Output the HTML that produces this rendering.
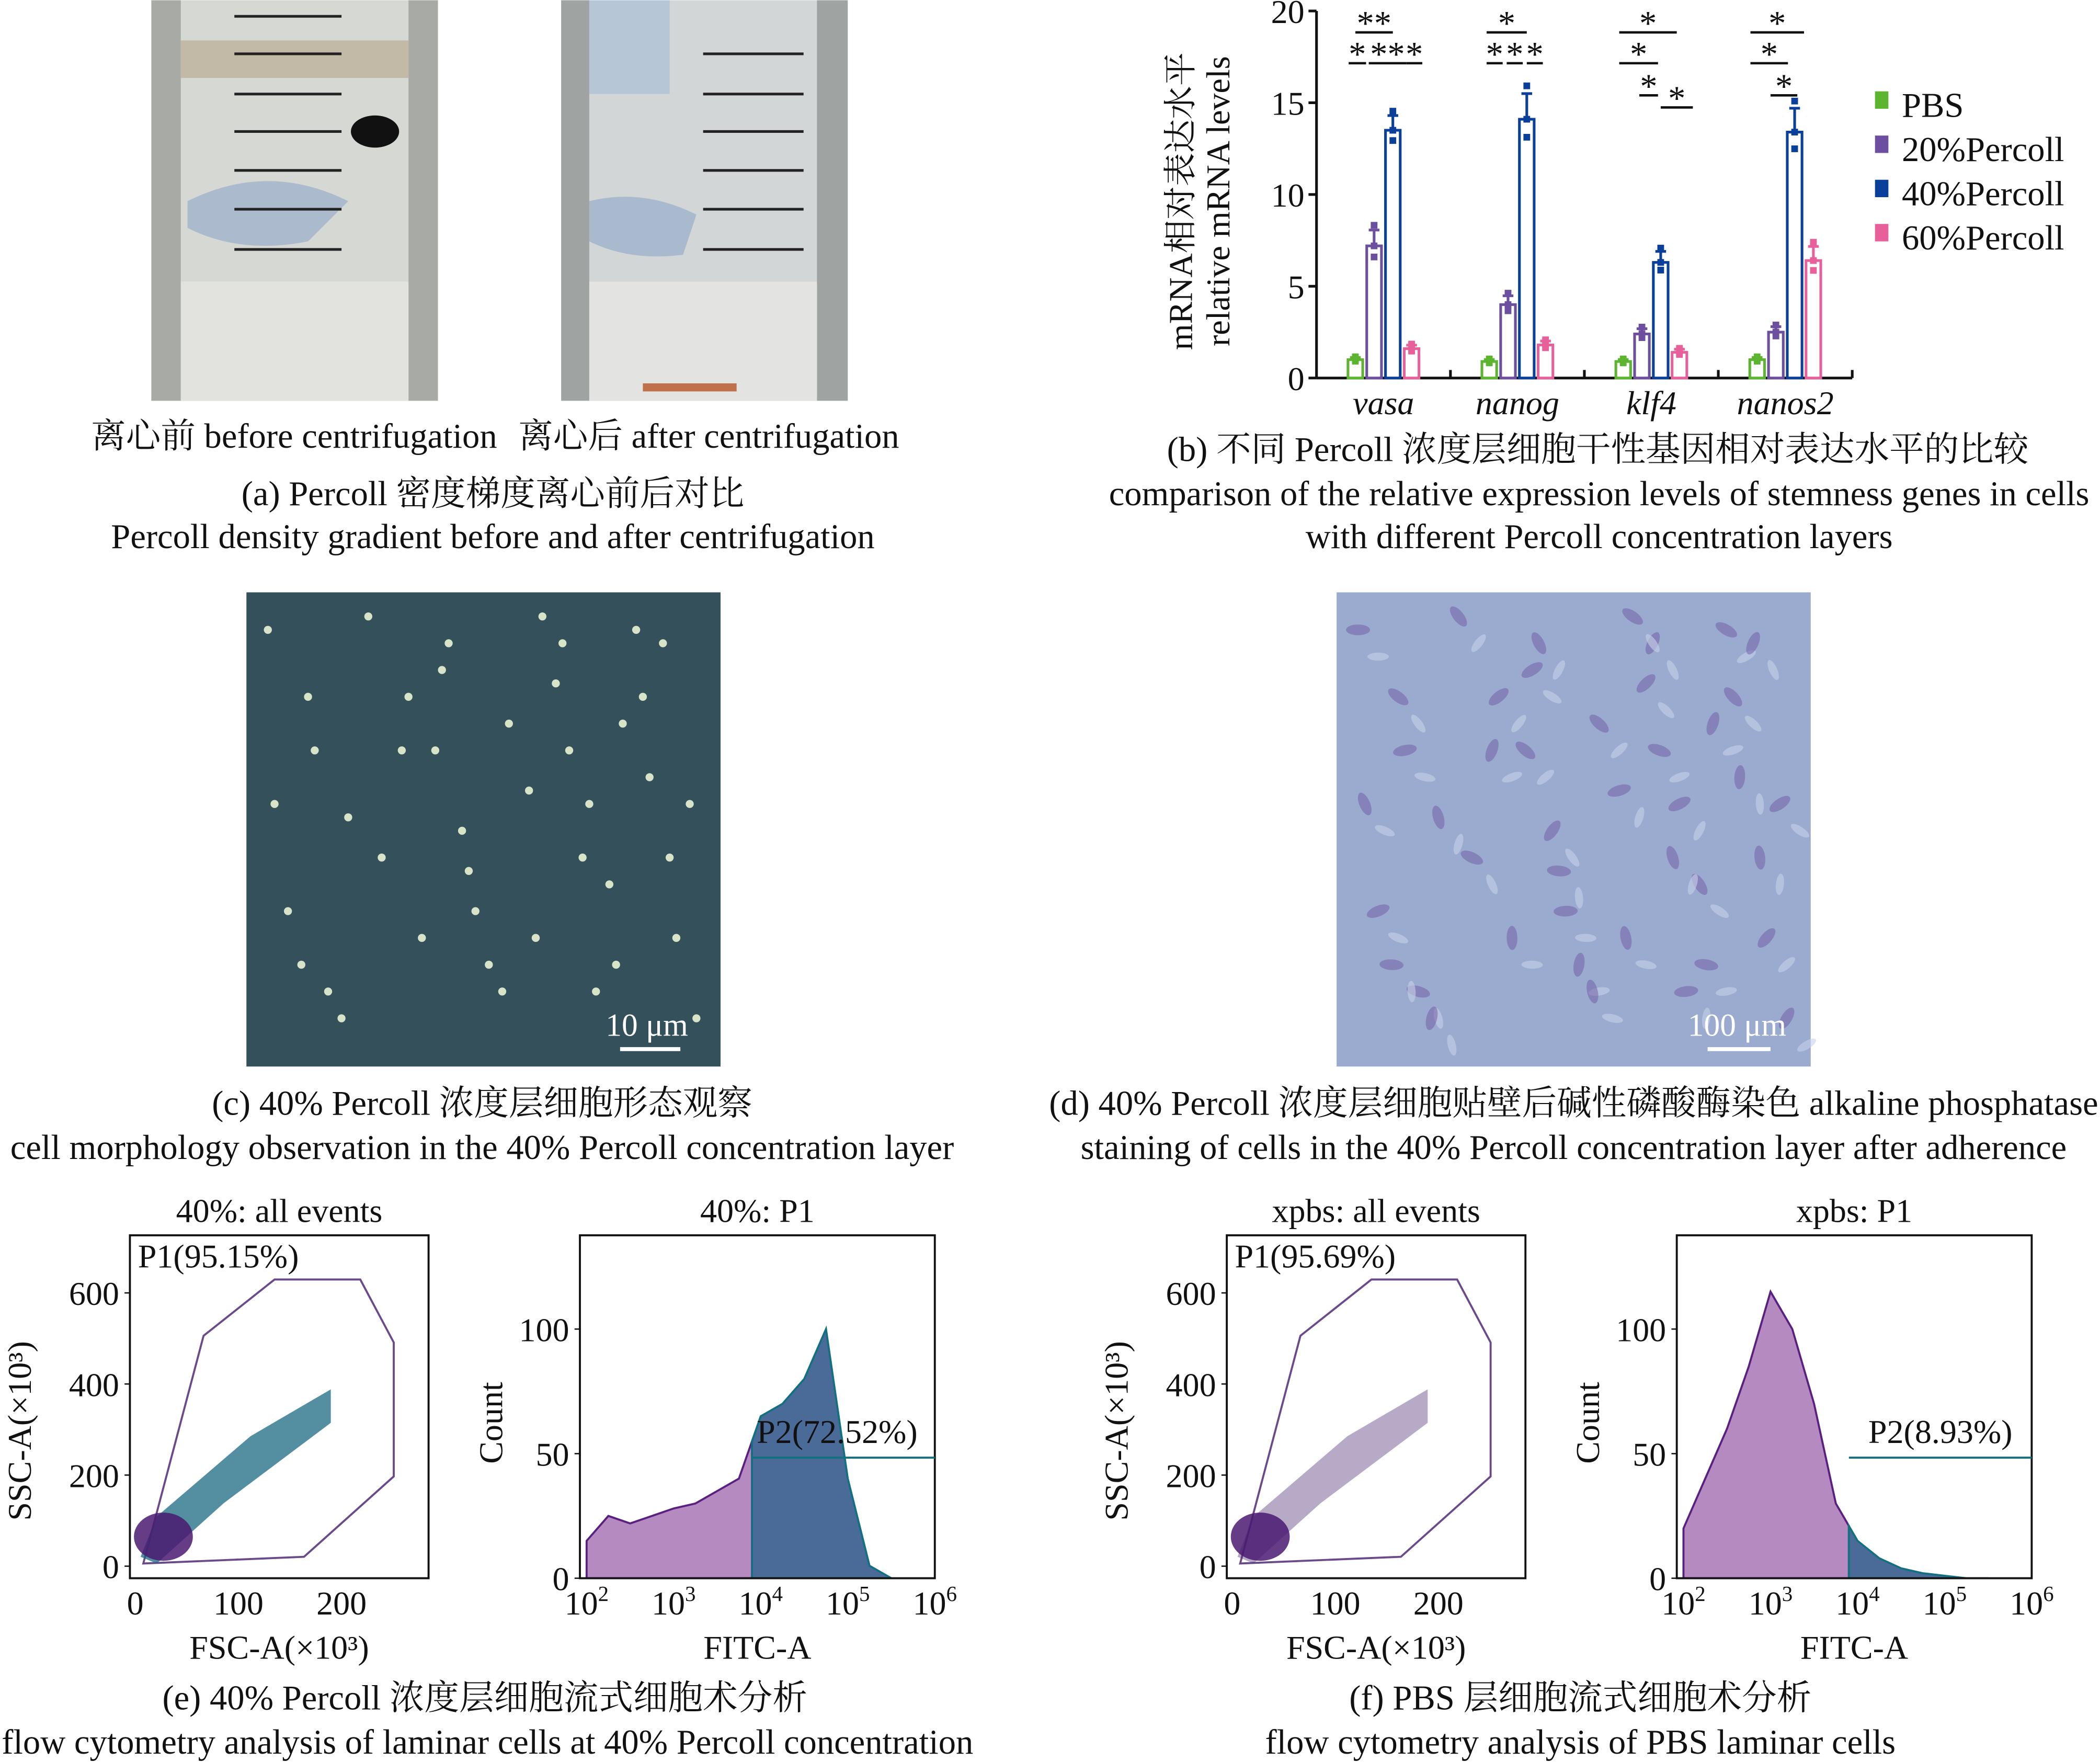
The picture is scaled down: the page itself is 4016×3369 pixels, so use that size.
<!DOCTYPE html>
<html><head><meta charset="utf-8"><style>
html,body{margin:0;padding:0;background:#fff}
svg{display:block}
text{font-family:"Liberation Serif","Noto Serif CJK SC",serif;fill:#111}
</style></head><body>
<svg id="s" width="4016" height="3369" viewBox="0 0 1568 1315" xmlns="http://www.w3.org/2000/svg">
<g>
<rect x="113" y="0" width="214" height="299" fill="#a8aaa6"/>
<rect x="135" y="0" width="170" height="299" fill="#d6d8d4"/>
<rect x="135" y="30" width="170" height="28" fill="#c2b9a6"/>
<rect x="135" y="210" width="170" height="89" fill="#e2e3df"/>
<path d="M140 150 Q200 120 260 150 L230 180 Q180 190 140 170Z" fill="#8fa6c8" opacity="0.6"/>
<g stroke="#222" stroke-width="2"><line x1="175" y1="12" x2="255" y2="12"/><line x1="175" y1="40" x2="255" y2="40"/><line x1="175" y1="70" x2="255" y2="70"/><line x1="175" y1="98" x2="255" y2="98"/><line x1="175" y1="127" x2="255" y2="127"/><line x1="175" y1="156" x2="255" y2="156"/><line x1="175" y1="186" x2="255" y2="186"/></g>
<ellipse cx="280" cy="98" rx="18" ry="12" fill="#111"/>
</g>
<g>
<rect x="419" y="0" width="214" height="299" fill="#9fa3a2"/>
<rect x="440" y="0" width="170" height="299" fill="#d3d6d6"/>
<rect x="440" y="0" width="60" height="70" fill="#b7c6d6"/>
<rect x="440" y="210" width="170" height="89" fill="#e3e4e1"/>
<path d="M440 150 Q480 140 520 160 L510 190 Q470 195 440 180Z" fill="#8fa6c8" opacity="0.6"/>
<rect x="480" y="286" width="70" height="6" fill="#c0704a"/>
<g stroke="#222" stroke-width="2"><line x1="525" y1="40" x2="600" y2="40"/><line x1="525" y1="70" x2="600" y2="70"/><line x1="525" y1="98" x2="600" y2="98"/><line x1="525" y1="127" x2="600" y2="127"/><line x1="525" y1="156" x2="600" y2="156"/><line x1="525" y1="186" x2="600" y2="186"/></g>
</g>
<g font-size="26">
<text x="68" y="334">离心前 before centrifugation</text>
<text x="387" y="334">离心后 after centrifugation</text>
<text x="368" y="377" text-anchor="middle">(a) Percoll 密度梯度离心前后对比</text>
<text x="368" y="409" text-anchor="middle">Percoll density gradient before and after centrifugation</text>
<text x="1193" y="344" text-anchor="middle">(b) 不同 Percoll 浓度层细胞干性基因相对表达水平的比较</text>
<text x="1194" y="377" text-anchor="middle">comparison of the relative expression levels of stemness genes in cells</text>
<text x="1194" y="409" text-anchor="middle">with different Percoll concentration layers</text>
<text x="360" y="832" text-anchor="middle">(c) 40% Percoll 浓度层细胞形态观察</text>
<text x="360" y="865" text-anchor="middle">cell morphology observation in the 40% Percoll concentration layer</text>
<text x="1175" y="832" text-anchor="middle">(d) 40% Percoll 浓度层细胞贴壁后碱性磷酸酶染色 alkaline phosphatase</text>
<text x="1175" y="865" text-anchor="middle">staining of cells in the 40% Percoll concentration layer after adherence</text>
<text x="362" y="1276" text-anchor="middle">(e) 40% Percoll 浓度层细胞流式细胞术分析</text>
<text x="364" y="1309" text-anchor="middle">flow cytometry analysis of laminar cells at 40% Percoll concentration</text>
<text x="1180" y="1276" text-anchor="middle">(f) PBS 层细胞流式细胞术分析</text>
<text x="1180" y="1309" text-anchor="middle">flow cytometry analysis of PBS laminar cells</text>
</g>
<g id="bar"></g>
<rect x="184" y="442" width="354" height="354" fill="#34505a"/>
<g id="dots"></g>
<line x1="463" y1="783" x2="508" y2="783" stroke="#fff" stroke-width="3"/>
<text x="483" y="773" font-size="24" style="fill:#fff" text-anchor="middle">10 μm</text>
<rect x="998" y="442" width="354" height="354" fill="#9aabcf"/>
<g id="cells2"></g>
<line x1="1275" y1="783" x2="1322" y2="783" stroke="#fff" stroke-width="3"/>
<text x="1297" y="773" font-size="24" style="fill:#fff" text-anchor="middle">100 μm</text>
<g id="flow"></g>
</svg>
<script>
const NS="http://www.w3.org/2000/svg";
function mk(p,t,a,txt){const e=document.createElementNS(NS,t);for(const k in a)e.setAttribute(k,a[k]);if(txt!==undefined)e.textContent=txt;p.appendChild(e);return e;}
const genes=["vasa","nanog","klf4","nanos2"];
const seriesNames=["PBS","20%Percoll","40%Percoll","60%Percoll"];
const pbs=[1.0,0.9,0.9,1.0];
const p20=[7.2,4.0,2.4,2.5];
const p40=[13.5,14.1,6.3,13.4];
const p60=[1.6,1.8,1.4,6.4];
const errs40=[0.8,1.4,0.6,1.3];
const yTicks=[0,5,10,15,20];
const colors=["#5cb531","#6d4fa0","#0a3f9a","#e8609a"];
const bar=document.getElementById('bar');
const X0=983,X1=1383,Y0=282,Y1=8;
const yS=v=>Y0-(v/20)*(Y0-Y1);
const gW=(X1-X0)/genes.length;
const xS=(g,s)=>X0+gW*(g+0.5)+(s-1.5)*14;
let ax=mk(bar,'line',{x1:X0,y1:Y1,x2:X0,y2:Y0,stroke:'#111','stroke-width':2});

let axx=mk(bar,'line',{x1:X0,y1:Y0,x2:X1,y2:Y0,stroke:'#111','stroke-width':2});

yTicks.forEach(t=>{mk(bar,'line',{x1:X0-6,y1:yS(t),x2:X0,y2:yS(t),stroke:'#111','stroke-width':2});
 const tl=mk(bar,'text',{x:X0-9,y:yS(t)+9,'font-size':25,'text-anchor':'end'},t);
 });
genes.forEach((g,i)=>{mk(bar,'line',{x1:X0+gW*(i+1),y1:Y0,x2:X0+gW*(i+1),y2:Y0-6,stroke:'#111','stroke-width':2});
 const t=mk(bar,'text',{x:X0+gW*(i+.5),y:309,'font-size':25,'font-style':'italic','text-anchor':'middle'},g);
 });
const all=[pbs,p20,p40,p60];
all.forEach((arr,s)=>arr.forEach((v,g)=>{
 const x=xS(g,s),w=11;
 const r=mk(bar,'rect',{x:x-w/2,y:yS(v),width:w,height:Y0-yS(v),fill:'#fff',stroke:colors[s],'stroke-width':2});
 
 const e=s==2?errs40[g]:v*0.12;
 mk(bar,'line',{x1:x,y1:yS(v+e),x2:x,y2:yS(v),stroke:colors[s],'stroke-width':2});
 mk(bar,'line',{x1:x-4,y1:yS(v+e),x2:x+4,y2:yS(v+e),stroke:colors[s],'stroke-width':2});
 [v+e*1.3,v,v-e*0.7].forEach(d=>mk(bar,'rect',{x:x-2.5,y:yS(d)-2.5,width:5,height:5,fill:colors[s]}));
}));
[[0,"**",1012,1040,4],[0,"*",1007,1020,27],[0,"**",1022,1050,27],[0,"*",1050,1062,27],
 [1,"*",1110,1140,4],[1,"*",1110,1122,27],[1,"*",1125,1137,27],[1,"*",1140,1152,27],
 [2,"*",1209,1252,4],[2,"*",1209,1238,27],[2,"*",1224,1238,51],[2,"*",1240,1264,60],
 [3,"*",1307,1347,4],[3,"*",1307,1335,27],[3,"*",1322,1342,51]].forEach(m=>{
 mk(bar,'text',{x:(m[2]+m[3])/2,y:m[4]+22,'font-size':26,'text-anchor':'middle'},m[1]);
 mk(bar,'line',{x1:m[2],y1:m[4]+20,x2:m[3],y2:m[4]+20,stroke:'#111','stroke-width':1.8});});
seriesNames.forEach((n,i)=>{const y=78+i*33;
 const r=mk(bar,'rect',{x:1400,y:y-10,width:10,height:13,fill:colors[i]});
 
 const t=mk(bar,'text',{x:1420,y:y+9,'font-size':26},n);
 });
const yl=mk(bar,'text',{transform:'translate(890,150) rotate(-90)','font-size':25,'text-anchor':'middle'},'mRNA相对表达水平');

mk(bar,'text',{transform:'translate(918,150) rotate(-90)','font-size':25,'text-anchor':'middle'},'relative mRNA levels');
const dots=document.getElementById('dots');
const cellX=[200,230,260,300,330,350,380,400,420,440,460,480,500,520,215,245,275,315,345,395,425,455,485,505,235,285,335,365,415,445,475,205,255,305,355,405,435,465,515,225,325,375,495];
const cellY=[470,520,610,560,500,650,540,700,480,600,720,520,640,760,680,740,460,700,620,590,560,660,580,700,560,640,480,720,510,740,470,600,760,520,680,460,640,540,600,720,560,740,480];
cellX.forEach((x,i)=>mk(dots,'circle',{cx:x,cy:cellY[i],r:3,fill:'#d8e4c8'}));
const c2=document.getElementById('cells2');
cellX.forEach((x,i)=>{const cx=x+814,cy=cellY[i];
 mk(c2,'ellipse',{cx:cx,cy:cy,rx:9,ry:4,fill:'#7560a8',opacity:0.55,transform:`rotate(${(i*37)%180} ${cx} ${cy})`});
 mk(c2,'ellipse',{cx:cx+15,cy:cy+20,rx:8,ry:3,fill:'#c8d2ea',opacity:0.6,transform:`rotate(${(i*53)%180} ${cx+15} ${cy+20})`});});
const fl=document.getElementById('flow');
const histBins=[2,2.25,2.5,2.75,3,3.25,3.5,3.75,4,4.25,4.5,4.75,5,5.25,5.5];
const histE=[15,25,22,25,28,30,35,40,65,70,80,100,40,5,0];
const histF=[20,40,60,85,115,100,70,30,15,8,4,2,1,0,0];
function scatterPanel(x0,title,gate,pur){
 const w=223,h=256,y0=922;
 mk(fl,'rect',{x:x0,y:y0,width:w,height:h,fill:'#fff',stroke:'#111','stroke-width':1.5});
 mk(fl,'text',{x:x0+w/2,y:y0-10,'font-size':25,'text-anchor':'middle'},title);
 mk(fl,'text',{x:x0+6,y:y0+24,'font-size':25},gate);
 mk(fl,'polygon',{points:`${x0+10},${y0+245} ${x0+55},${y0+75} ${x0+108},${y0+33} ${x0+172},${y0+33} ${x0+197},${y0+80} ${x0+197},${y0+180} ${x0+130},${y0+240}`,fill:'none',stroke:'#6a4a8a','stroke-width':1.5});
 mk(fl,'polygon',{points:`${x0+8},${y0+240} ${x0+20},${y0+210} ${x0+90},${y0+150} ${x0+150},${y0+115} ${x0+150},${y0+140} ${x0+70},${y0+200} ${x0+20},${y0+245}`,fill:pur?'#4a2a70':'#1a6a80',opacity:pur?0.4:0.75});
 mk(fl,'ellipse',{cx:x0+25,cy:y0+225,rx:22,ry:18,fill:'#4a1a70',opacity:0.85});
 [0,100,200].forEach(v=>{const x=x0+4+v*0.77;mk(fl,'text',{x:x,y:y0+283,'font-size':25,'text-anchor':'middle'},v);});
 [0,200,400,600].forEach(v=>{const y=y0+247-v*0.34;mk(fl,'text',{x:x0-8,y:y+9,'font-size':25,'text-anchor':'end'},v);mk(fl,'line',{x1:x0-4,y1:y,x2:x0,y2:y,stroke:'#111'});});
 mk(fl,'text',{x:x0+w/2,y:y0+316,'font-size':25,'text-anchor':'middle'},'FSC-A(×10³)');
 mk(fl,'text',{transform:`translate(${x0-74},${y0+146}) rotate(-90)`,'font-size':25,'text-anchor':'middle'},'SSC-A(×10³)');
}
function histPanel(x0,title,data,label,lx){
 const y0=922,w=265,h=256;
 const xs=d=>x0+5+(d-2)*65, ys=c=>y0+h-c*1.86;
 mk(fl,'text',{x:x0+w/2,y:y0-10,'font-size':25,'text-anchor':'middle'},title);
 let pp=`${xs(2)},${ys(0)}`,pt='';
 histBins.forEach((b,i)=>{ if(b<=3.9) pp+=` ${xs(b)},${ys(data[i])}`; });
 const cut=3.9; const iC=histBins.findIndex(b=>b>cut);
 const vc=data[iC-1]+(data[iC]-data[iC-1])*(cut-histBins[iC-1])/0.25;
 pp+=` ${xs(cut)},${ys(vc)} ${xs(cut)},${ys(0)}`;
 pt=`${xs(cut)},${ys(0)} ${xs(cut)},${ys(vc)}`;
 histBins.forEach((b,i)=>{ if(b>cut) pt+=` ${xs(b)},${ys(data[i])}`;});
 pt+=` ${xs(5.5)},${ys(0)}`;
 const a=mk(fl,'polygon',{points:pp,fill:'#b48ac0',stroke:'#5a2080','stroke-width':1.5});
 
 const b=mk(fl,'polygon',{points:pt,fill:'#4a6a98',stroke:'#137080','stroke-width':1.5});
 
 mk(fl,'rect',{x:x0,y:y0,width:w,height:h,fill:'none',stroke:'#111','stroke-width':1.5});
 mk(fl,'line',{x1:xs(cut),y1:y0+166,x2:x0+w,y2:y0+166,stroke:'#137080','stroke-width':1.5});
 mk(fl,'text',{x:lx,y:y0+155,'font-size':25},label);
 [2,3,4,5,6].forEach(d=>{const t=mk(fl,'text',{x:xs(d),y:y0+283,'font-size':25,'text-anchor':'middle'},'10');mk(t,'tspan',{dy:-10,'font-size':16},d);});
 [0,50,100].forEach(c=>{mk(fl,'text',{x:x0-8,y:ys(c)+9,'font-size':25,'text-anchor':'end'},c);mk(fl,'line',{x1:x0-4,y1:ys(c),x2:x0,y2:ys(c),stroke:'#111'});});
 mk(fl,'text',{x:x0+w/2,y:y0+316,'font-size':25,'text-anchor':'middle'},'FITC-A');
 mk(fl,'text',{transform:`translate(${x0-58},${y0+140}) rotate(-90)`,'font-size':25,'text-anchor':'middle'},'Count');
}
scatterPanel(97,'40%: all events','P1(95.15%)',false);
histPanel(433,'40%: P1',histE,'P2(72.52%)',565);
scatterPanel(916,'xpbs: all events','P1(95.69%)',true);
histPanel(1252,'xpbs: P1',histF,'P2(8.93%)',1395);
</script>
</body></html>
